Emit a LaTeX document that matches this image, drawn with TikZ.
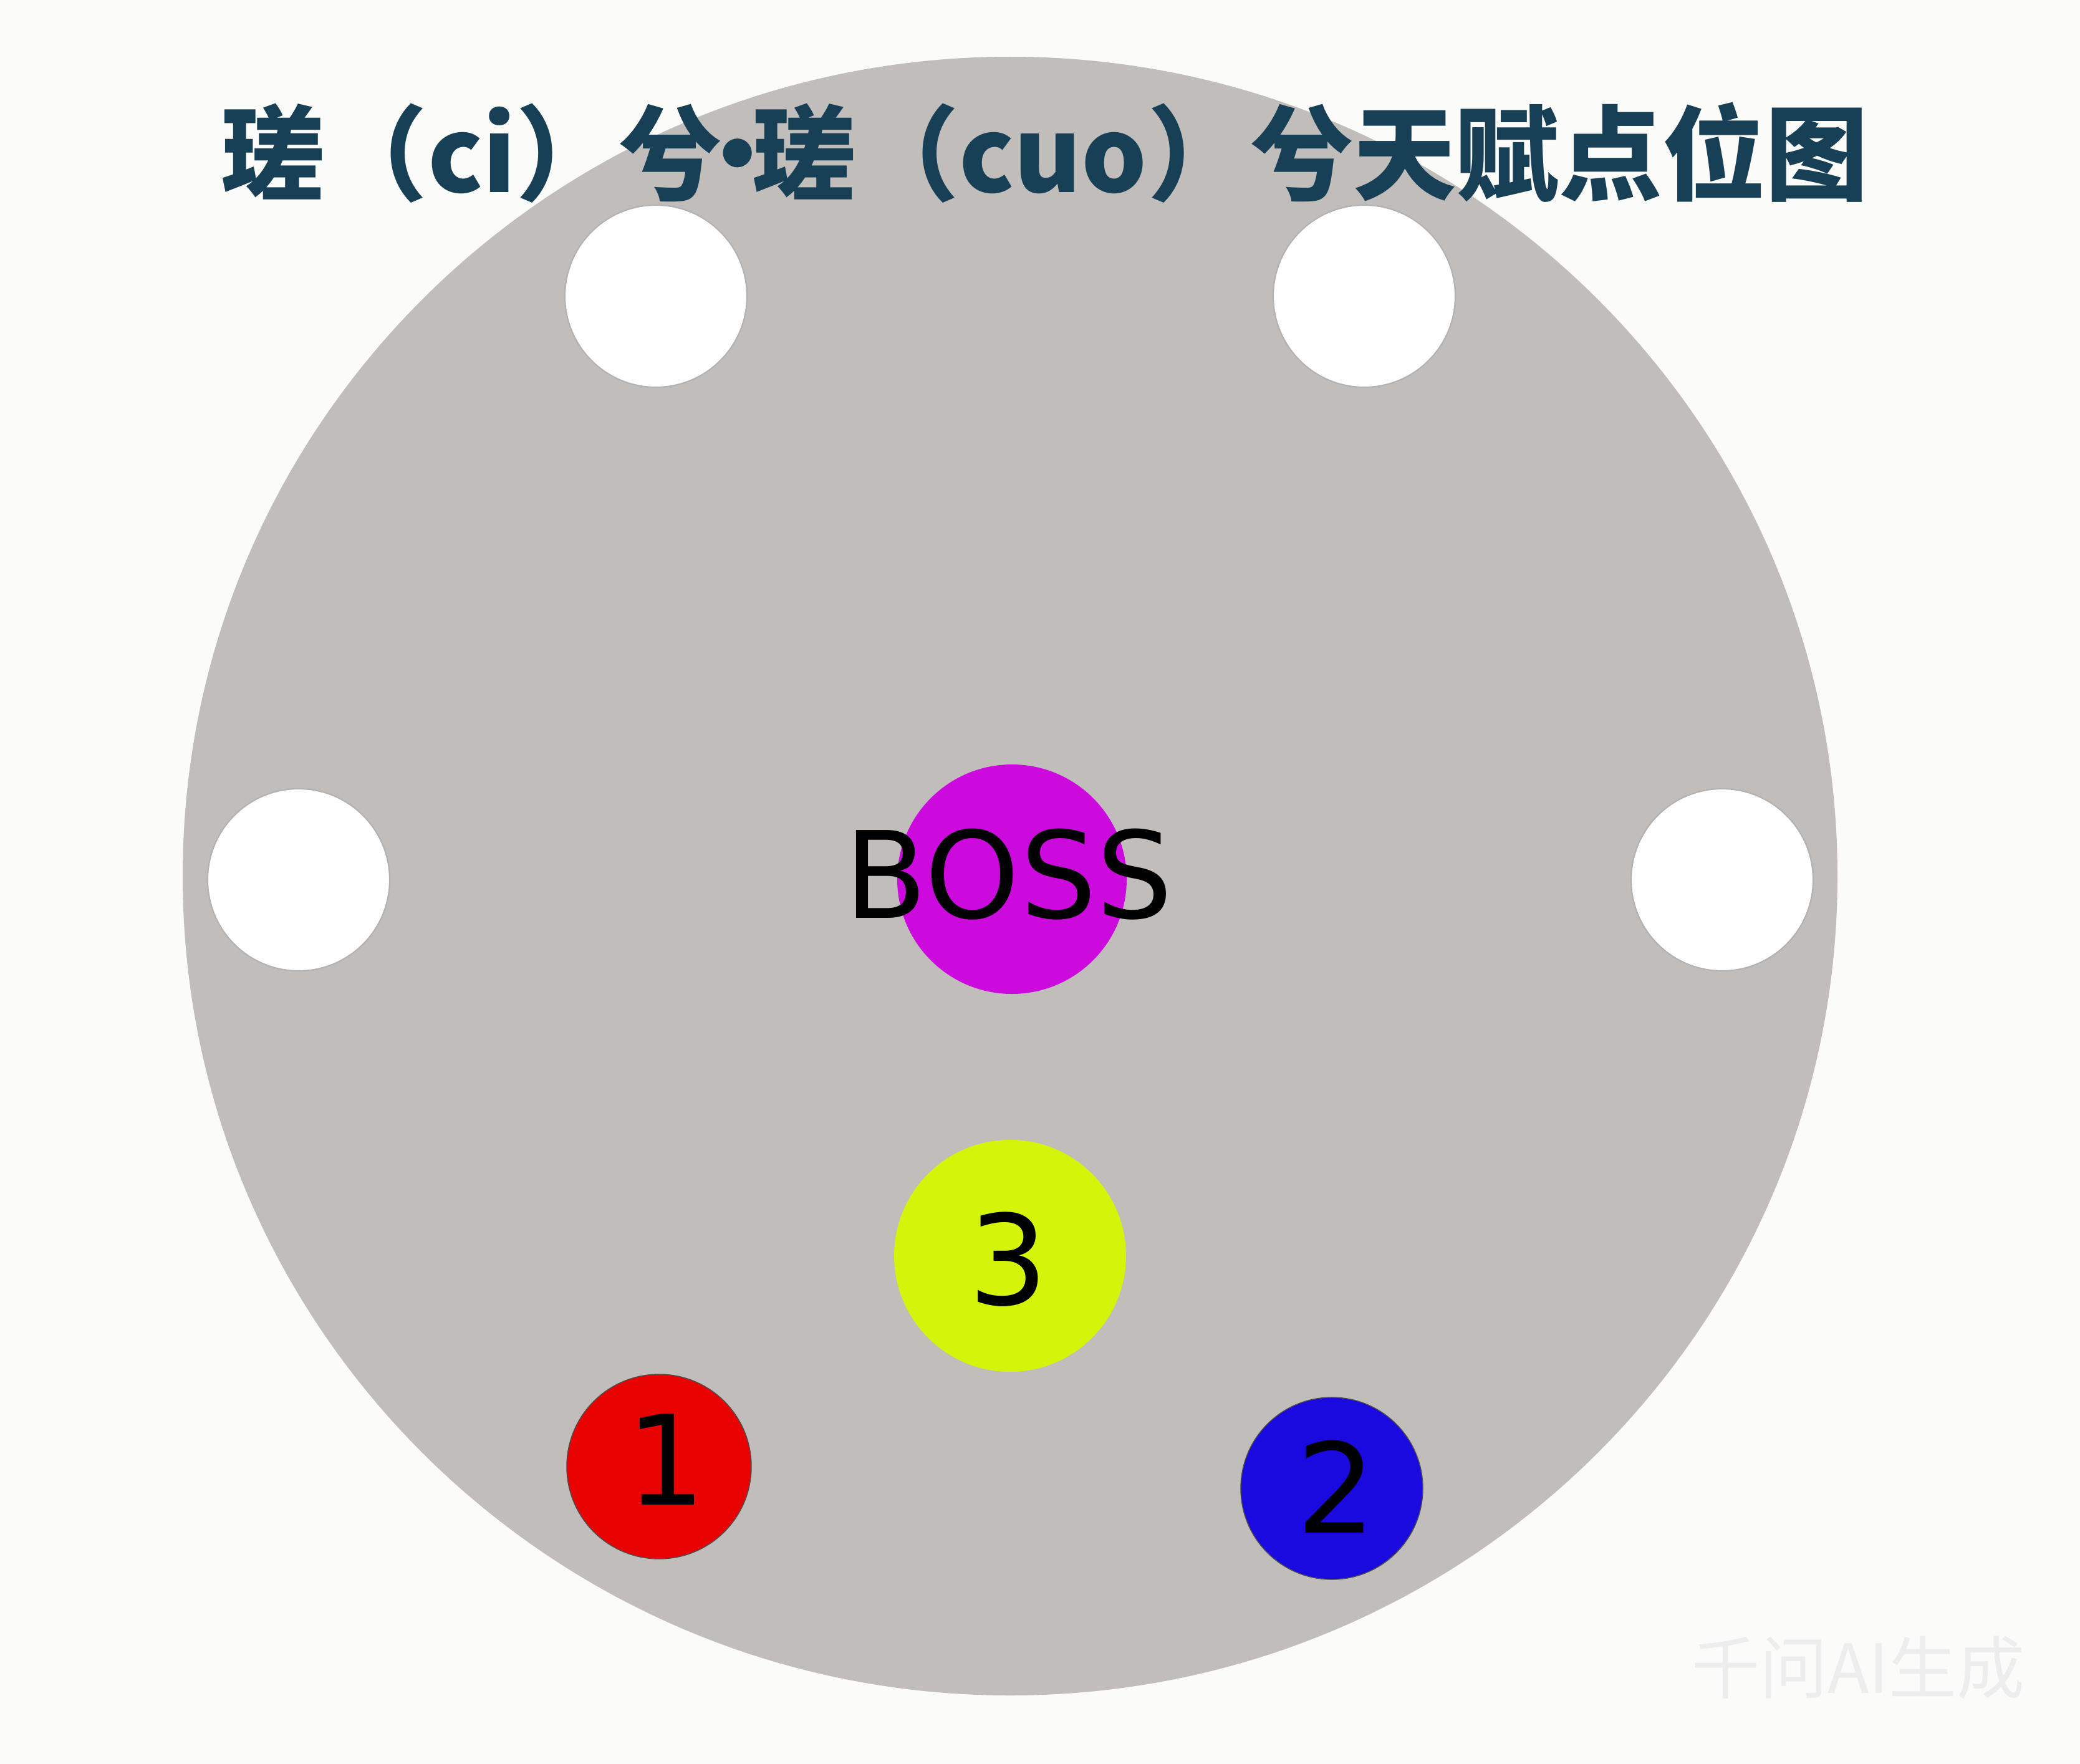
\documentclass[tikz,border=0pt]{standalone}
\usepackage{fontspec}
\setmainfont{DejaVu Sans}
\newfontfamily\cjk{Noto Sans CJK SC}
\definecolor{paper}{HTML}{FBFBF9}
\definecolor{plate}{HTML}{C0BDBB}
\definecolor{titleblue}{HTML}{173F55}
\definecolor{bossmag}{HTML}{CC0ADD}
\definecolor{lime}{HTML}{D4F50A}
\definecolor{spotred}{HTML}{E80202}
\definecolor{spotblue}{HTML}{1A0AE0}
\newcommand{\narrowdot}{\hbox to 0.3em{\hss·\hss}}

\begin{document}
\begin{tikzpicture}[
    hole/.style={fill=white, draw=black!30, line width=0.6pt},
    spot/.style={circle, inner sep=0pt},
    digit/.style={font=\fontsize{57}{60}\selectfont, inner sep=0pt}]
   \fill[paper] (0,0) rectangle (33.36,-28.29);
   \useasboundingbox (0,0) rectangle (33.36,-28.29);

   % plate and its four holes
   \fill[plate] (16.20,-14.05) ellipse [x radius=13.27, y radius=13.14];
   \foreach \x/\y in {10.52/-4.75, 21.88/-4.75, 4.79/-14.11, 27.62/-14.11}
     \filldraw[hole] (\x,\y) circle (1.46);

   \node[font=\cjk\bfseries\fontsize{47}{50}\selectfont, text=titleblue, inner sep=0pt]
     (title) at (16.76,-2.45) {瑳（ci）兮\narrowdot 瑳（cuo）兮天赋点位图};

   % boss
   \node[spot, fill=bossmag, minimum size=3.68cm] (bossspot) at (16.23,-14.10) {};
   \node[font=\fontsize{55}{60}\selectfont, inner sep=0pt] (boss) at (16.18,-14.02) {BOSS};

   % points 1 2 3
   \node[spot, fill=lime, minimum size=3.72cm] (s3) at (16.20,-20.14) {};
   \node[digit] (n3) at (16.17,-20.20) {3};
   \node[spot, fill=spotred, draw=black!70, minimum size=2.96cm] (s1) at (10.57,-23.52) {};
   \node[digit] (n1) at (10.68,-23.40) {1};
   \node[spot, fill=spotblue, draw=black!70, minimum size=2.92cm] (s2) at (21.36,-23.87) {};
   \node[digit] (n2) at (21.43,-23.84) {2};

   \node[font=\cjk\fontsize{31}{35}\selectfont, text=black!7, anchor=west, inner sep=0pt]
     (mark) at (27.13,-26.74) {千问AI生成};
\end{tikzpicture}
\end{document}
